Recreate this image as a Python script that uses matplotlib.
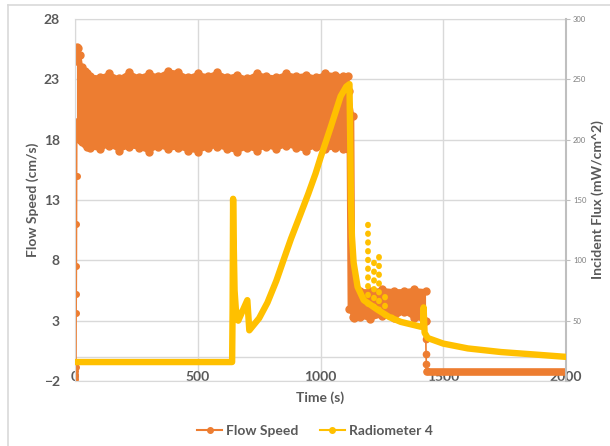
import matplotlib
matplotlib.use("Agg")
import matplotlib.pyplot as plt
from matplotlib.lines import Line2D

plt.rcParams['font.family'] = ['Lato', 'DejaVu Sans']

orange = "#ED7D31"
yellow = "#FFC000"
text_gray = "#595959"
grid_gray = "#D9D9D9"

# Flow speed: the fast oscillating part, as upper / lower envelope (cm/s)
band_t = [6, 8, 14, 20, 28, 40, 50, 60, 100, 140, 180, 220, 260, 300, 340, 380,
          420, 460, 500, 540, 580, 620, 660, 700, 740, 780, 820, 860, 900, 940,
          980, 1020, 1060, 1090, 1112, 1116, 1132, 1136, 1160, 1200, 1250, 1300,
          1340, 1380, 1428]
band_hi = [24.5, 25.7, 25.6, 25.0, 24.0, 23.7, 23.5, 23.3, 23.2, 23.5, 23.1, 23.6,
           23.2, 23.5, 23.3, 23.7, 23.6, 23.2, 23.5, 23.3, 23.6, 23.2, 23.4, 23.1,
           23.5, 23.3, 23.2, 23.5, 23.3, 23.4, 23.2, 23.5, 23.4, 23.3, 23.3, 22.0,
           20.0, 5.6, 5.5, 5.5, 5.6, 5.5, 5.5, 5.6, 5.5]
band_lo = [19.5, 18.8, 18.5, 18.0, 17.8, 17.6, 17.4, 17.3, 17.2, 17.5, 17.1, 17.4,
           17.3, 17.0, 17.4, 17.2, 17.3, 17.1, 17.0, 17.3, 17.4, 17.2, 17.0, 17.3,
           17.1, 17.4, 17.2, 17.5, 17.3, 17.1, 17.4, 17.2, 17.3, 17.2, 17.2, 4.0,
           3.3, 3.2, 3.3, 3.1, 3.4, 3.2, 3.7, 3.2, 3.0]

# Flow speed: start-up and shut-down traces
start_t = [0, 1, 2, 3, 4, 4.5, 5, 5.5, 6, 6.5, 7]
start_v = [-1.5, -1.8, -1.2, -0.8, -0.4, 3.6, 5.2, 7.5, 11, 15, 19]
drop_t = [1428, 1429, 1430, 1431, 1432]
drop_v = [3.0, 1.5, 0.2, -0.6, -1.2]
tail_t = [1432, 2000]
tail_v = [-1.25, -1.25]

# Radiometer 4 incident flux (mW/cm^2)
rad_t = [0, 640, 642, 644, 646, 650, 655, 665, 702, 710, 750, 784, 820, 849, 880,
         918, 950, 980, 1000, 1041, 1082, 1105, 1118, 1121, 1124, 1128, 1135, 1151,
         1176, 1233, 1280, 1327, 1408, 1418, 1420, 1424, 1437, 1500, 1600, 1735,
         1869, 2000]
rad_v = [15.7, 15.7, 60, 151, 120, 75, 60, 50, 67, 42, 52, 65, 83, 100, 118,
         138, 155, 172, 185, 210, 236, 244, 246, 200, 150, 120, 98, 78,
         67, 59, 53, 49, 45, 45, 61, 40, 35.6, 31, 27, 24,
         22, 20]
spike_t = [1192, 1216, 1237, 1262, 1290]
spike_base = [64, 61, 59, 55, 52]
spike_top = [133, 100, 104, 72, 58]

flux_ticks = [0, 50, 100, 150, 200, 250, 300]
flux_labels = ["", "50", "100", "150", "200", "250", "300"]

fig = plt.figure(figsize=(6.1, 4.46), dpi=100)
ax = fig.add_axes([75 / 610, 1 - 381 / 446, 491 / 610, 362 / 446])
ax2 = ax.twinx()

# flow speed on left axis
ax.fill_between(band_t, band_lo, band_hi, color=orange, lw=0, zorder=2)
ax.plot(band_t, band_hi, "-o", color=orange, lw=2, ms=5, zorder=2)
ax.plot(band_t, band_lo, "-o", color=orange, lw=2, ms=5, zorder=2)
ax.plot(start_t, start_v, "-o", color=orange, lw=1.2, ms=4, zorder=2)
ax.plot(drop_t, drop_v, "-o", color=orange, lw=1.2, ms=4.5, zorder=2)
ax.plot(tail_t, tail_v, "-", color=orange, lw=5.5, solid_capstyle="round", zorder=2)

ax.set_xlim(0, 2000)
ax.set_ylim(-2, 28)
ax.set_xticks([0, 500, 1000, 1500, 2000])
ax.set_yticks([-2, 3, 8, 13, 18, 23, 28])
ax.grid(True, color=grid_gray, lw=1)
ax.set_axisbelow(True)
ax.axhline(0, color=grid_gray, lw=1, zorder=1)
ax.tick_params(axis="y", length=0, pad=11, labelsize=10, labelcolor=text_gray)
ax.tick_params(axis="x", length=0, pad=-7.5, labelsize=10, labelcolor=text_gray)
for lab in ax.get_xticklabels() + ax.get_yticklabels():
    lab.set_fontweight("bold")
for s in ["top", "bottom", "left"]:
    ax.spines[s].set_color(grid_gray)
ax.spines["right"].set_visible(False)

ax.set_xlabel("Time (s)", fontsize=10, fontweight="bold", color=text_gray)
ax.xaxis.set_label_coords(0.499, -0.028)
ax.set_ylabel("Flow Speed (cm/s)", fontsize=10, fontweight="bold", color=text_gray)
ax.yaxis.set_label_coords(-0.073, 0.5)

# radiometer on right axis
ax2.plot(rad_t, rad_v, "-", color=yellow, lw=4.6, solid_capstyle="round",
         solid_joinstyle="round", zorder=3)
for t, b, top in zip(spike_t, spike_base, spike_top):
    ax2.plot([t, t], [b, top], color=yellow, lw=4.2, linestyle=(0, (0.1, 1.4)),
             dash_capstyle="round", zorder=3)
ax2.set_ylim(0, 300)
ax2.set_yticks(flux_ticks)
ax2.set_yticklabels(flux_labels)
ax2.tick_params(axis="y", length=3, width=0.8, color="#BFBFBF", pad=2,
                labelsize=5.5, labelcolor="#7F7F7F")
ax2.spines["right"].set_color("#BFBFBF")
ax2.spines["right"].set_linewidth(1.5)
for s in ["top", "bottom", "left"]:
    ax2.spines[s].set_visible(False)
ax2.set_ylabel("Incident Flux (mW/cm^2)", fontsize=10, fontweight="bold",
               color=text_gray, rotation=90)
ax2.yaxis.set_label_coords(1.051, 0.5)

# legend
handles = [Line2D([], [], color=orange, lw=1.5, marker="o", ms=4),
           Line2D([], [], color=yellow, lw=1.5, marker="o", ms=4)]
leg = fig.legend(handles, ["Flow Speed", "Radiometer 4"], loc="center",
                 bbox_to_anchor=(315 / 610, 1 - 431 / 446), ncol=2, frameon=False,
                 handlelength=1.8, handletextpad=0.3, columnspacing=1.5,
                 prop={"size": 10, "weight": "bold"})
for t in leg.get_texts():
    t.set_color(text_gray)

# chart area border (top and left edge visible)
fig.add_artist(Line2D([8 / 610, 8 / 610], [0, 1 - 5 / 446], color=grid_gray, lw=1.2))
fig.add_artist(Line2D([8 / 610, 1], [1 - 5 / 446, 1 - 5 / 446], color=grid_gray, lw=1.2))

fig.savefig("out.png", dpi=100)
